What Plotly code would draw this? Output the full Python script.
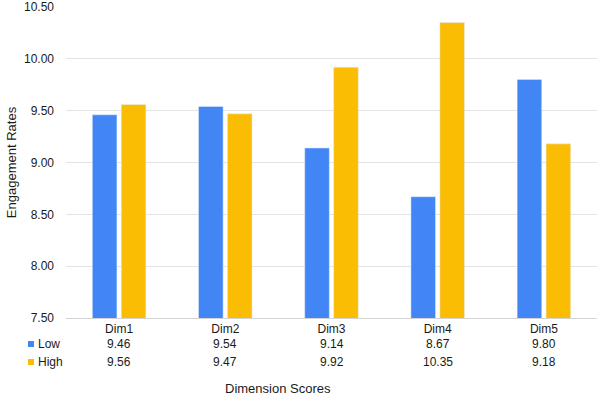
import plotly.graph_objects as go

categories = ["Dim1", "Dim2", "Dim3", "Dim4", "Dim5"]
low_values = [9.46, 9.54, 9.14, 8.67, 9.80]
high_values = [9.56, 9.47, 9.92, 10.35, 9.18]
series_names = ["Low", "High"]
y_ticks = [7.5, 8.0, 8.5, 9.0, 9.5, 10.0, 10.5]

BLUE = "#4285F4"
YELLOW = "#FBBC04"
FONT = "Liberation Sans, Arial, sans-serif"
TXT = "#1a1a1a"

fig = go.Figure()
fig.add_trace(go.Bar(x=categories, y=low_values, name=series_names[0], marker_color=BLUE))
fig.add_trace(go.Bar(x=categories, y=high_values, name=series_names[1], marker_color=YELLOW))

W, H = 600, 398
L, R, T, B = 66, 3, 7, 80
plot_h = H - T - B

def py(pix):
    # pixel y (from top) -> paper y
    return (H - B - pix) / plot_h

def px(pix):
    return (pix - L) / (W - L - R)

annotations = []
rows = [(low_values, 344), (high_values, 362)]
for vals, ypix in rows:
    for c, v in zip(categories, vals):
        annotations.append(dict(x=c, xref="x", y=py(ypix), yref="paper",
                                text=f"{v:.2f}", showarrow=False,
                                font=dict(size=12, color=TXT, family=FONT),
                                xanchor="center", yanchor="middle"))

shapes = []
for (name, color), (_, ypix) in zip(zip(series_names, [BLUE, YELLOW]), rows):
    annotations.append(dict(x=px(36), xref="paper", y=py(ypix), yref="paper",
                            text=name, showarrow=False,
                            font=dict(size=12, color=TXT, family=FONT),
                            xanchor="left", yanchor="middle"))
    shapes.append(dict(type="rect", xref="paper", yref="paper",
                       x0=px(28), x1=px(34), y0=py(ypix + 3), y1=py(ypix - 3),
                       fillcolor=color, line=dict(width=0)))

annotations.append(dict(x=px(278), xref="paper", y=py(388), yref="paper",
                        text="Dimension Scores", showarrow=False,
                        font=dict(size=13, color=TXT, family=FONT),
                        xanchor="center", yanchor="middle"))

fig.update_layout(
    width=W, height=H,
    margin=dict(l=L, r=R, t=T, b=B, pad=0, autoexpand=False),
    paper_bgcolor="white", plot_bgcolor="white",
    barmode="group", bargap=0.455, bargroupgap=0.15,
    showlegend=False,
    font=dict(family=FONT, size=12, color=TXT),
    xaxis=dict(showgrid=False, showline=True, linecolor="#d4d4d4", linewidth=1,
               automargin=False,
               tickfont=dict(size=12, color=TXT), ticks="", ticklabelstandoff=0),
    yaxis=dict(range=[7.5, 10.5], tickvals=y_ticks, tickformat=".2f",
               automargin=False,
               showgrid=True, gridcolor="#e3e3e3", gridwidth=1,
               zeroline=False, showline=False, ticks="", ticklabelstandoff=11,
               tickfont=dict(size=12, color=TXT),
               title=dict(text="Engagement Rates", font=dict(size=13, color=TXT),
                          standoff=4)),
    annotations=annotations,
    shapes=shapes,
)

fig.write_html("out.html", config={"displayModeBar": False},
               post_script="document.body.style.margin='0';")
